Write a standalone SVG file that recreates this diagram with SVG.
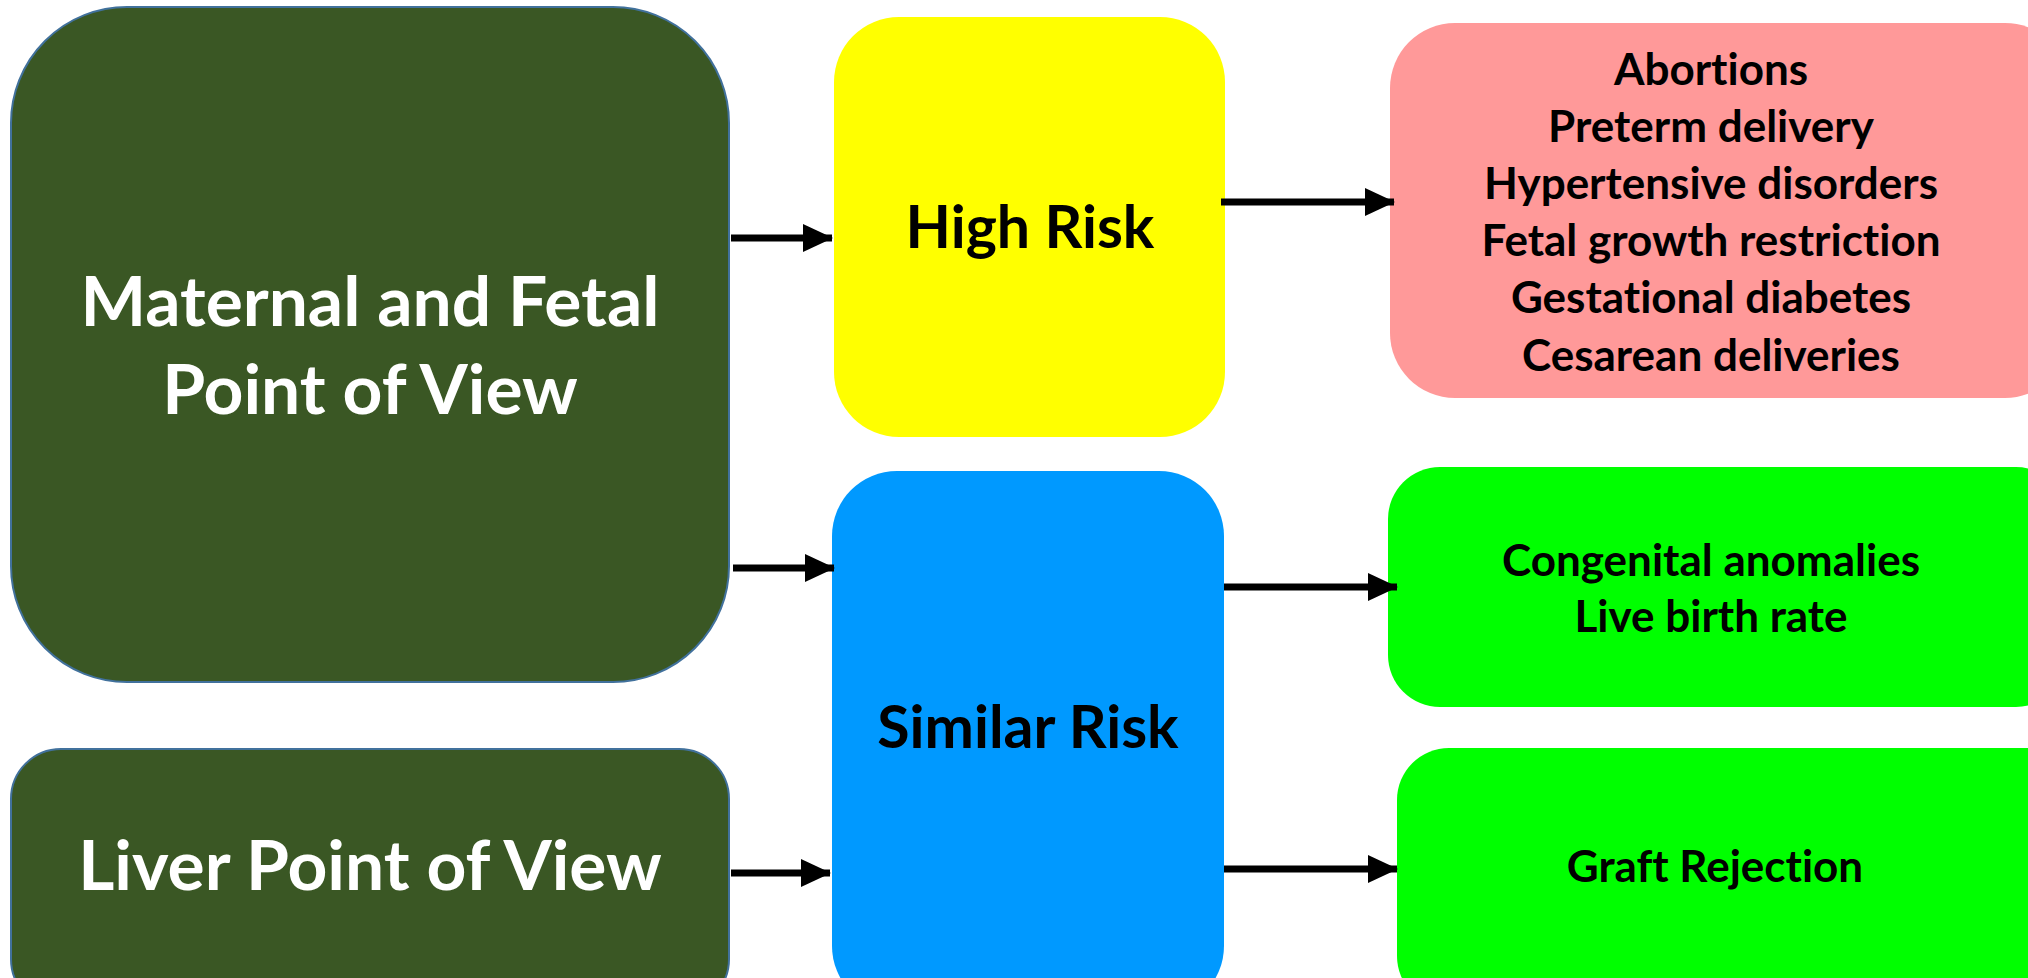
<svg xmlns="http://www.w3.org/2000/svg" width="2028" height="978" viewBox="0 0 2028 978">
<defs>
<marker id="ah" markerWidth="30" markerHeight="28" refX="29" refY="14" markerUnits="userSpaceOnUse" orient="auto">
<path d="M0,0 L30,14 L0,28 Z" fill="#000"/>
</marker>
<style>
.dark{fill:#3A5724;stroke:#41719C;stroke-width:2}
.t{font-family:Lato,"Open Sans","Liberation Sans",sans-serif;font-weight:bold;text-anchor:middle;font-variant-ligatures:none}
.w{fill:#fff;font-size:69.5px}
.m{fill:#000;font-size:59px}
.s{fill:#000;font-size:44px}
.c{stroke:#000;stroke-width:7;fill:none;marker-end:url(#ah)}
</style>
</defs>
<rect width="2028" height="978" fill="#fff"/>
<g id="maternal">
<rect class="dark" x="11" y="7" width="718" height="675" rx="116" ry="116"/>
<text class="t w" x="370" y="326">Maternal and Fetal</text>
<text class="t w" x="370" y="414">Point of View</text>
</g>
<g id="liver">
<rect class="dark" x="11" y="749" width="718" height="260" rx="50" ry="50"/>
<text class="t w" x="370" y="890">Liver Point of View</text>
</g>
<g id="high">
<rect x="834" y="17" width="391" height="420" rx="65" ry="65" fill="#FFFF00"/>
<text class="t m" x="1030" y="248">High Risk</text>
</g>
<g id="similar">
<rect x="832" y="471" width="392" height="540" rx="65" ry="65" fill="#0099FF"/>
<text class="t m" x="1028" y="748">Similar Risk</text>
</g>
<g id="highlist">
<rect x="1390" y="23" width="680" height="375" rx="65" ry="65" fill="#FF9999"/>
<text class="t s" x="1711" y="85">Abortions</text>
<text class="t s" x="1711" y="142">Preterm delivery</text>
<text class="t s" x="1711" y="199">Hypertensive disorders</text>
<text class="t s" x="1711" y="256">Fetal growth restriction</text>
<text class="t s" x="1711" y="313">Gestational diabetes</text>
<text class="t s" x="1711" y="371">Cesarean deliveries</text>
</g>
<g id="similarlist">
<rect x="1388" y="467" width="680" height="240" rx="52" ry="52" fill="#00FF00"/>
<text class="t s" x="1711" y="576">Congenital anomalies</text>
<text class="t s" x="1711" y="632">Live birth rate</text>
</g>
<g id="graft">
<rect x="1397" y="748" width="680" height="260" rx="52" ry="52" fill="#00FF00"/>
<text class="t s" x="1715" y="882">Graft Rejection</text>
</g>
<g id="connectors">
<line class="c" x1="731" y1="238" x2="832" y2="238"/>
<line class="c" x1="733" y1="568" x2="834" y2="568"/>
<line class="c" x1="731" y1="873" x2="830" y2="873"/>
<line class="c" x1="1221" y1="202" x2="1394" y2="202"/>
<line class="c" x1="1224" y1="587" x2="1397" y2="587"/>
<line class="c" x1="1224" y1="869" x2="1397" y2="869"/>
</g>
</svg>
